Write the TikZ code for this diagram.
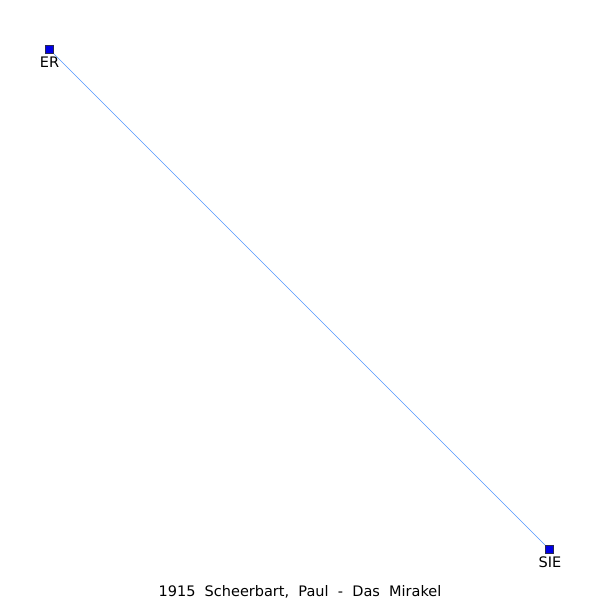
\documentclass[tikz,border=0pt]{standalone}
\usepackage{fontspec}
\setmainfont{DejaVu Sans}
\definecolor{edgeblue}{RGB}{80,150,255}
\definecolor{nodeblue}{RGB}{0,0,230}
\definecolor{nodeborder}{RGB}{40,40,80}
\tikzset{
  vert/.style={draw=nodeborder, fill=nodeblue, line width=0.6pt, minimum size=8pt, inner sep=0pt},
  lbl/.style={font=\fontsize{14.5pt}{16pt}\selectfont, inner sep=0pt, anchor=base},
  edge/.style={draw=edgeblue, line width=0.6pt}
}
\begin{document}
\begin{tikzpicture}[x=1pt,y=1pt]
\useasboundingbox (0,0) rectangle (600,600);
\node[vert] (er) at (49.5,550.5) {};
\node[vert] (sie) at (549.5,50.5) {};
\draw[edge] (er.center) -- (sie.center);
\node[vert] at (49.5,550.5) {};
\node[vert] at (549.5,50.5) {};
\node[lbl] (erl) at (49.5,532.5) {ER};
\node[lbl] (siel) at (550,32.5) {SIE};
\node[lbl] (title) at (300,3.5) {1915\ \ Scheerbart,\ \ Paul\ \ -\ \ Das\ \ Mirakel};
\end{tikzpicture}
\end{document}
